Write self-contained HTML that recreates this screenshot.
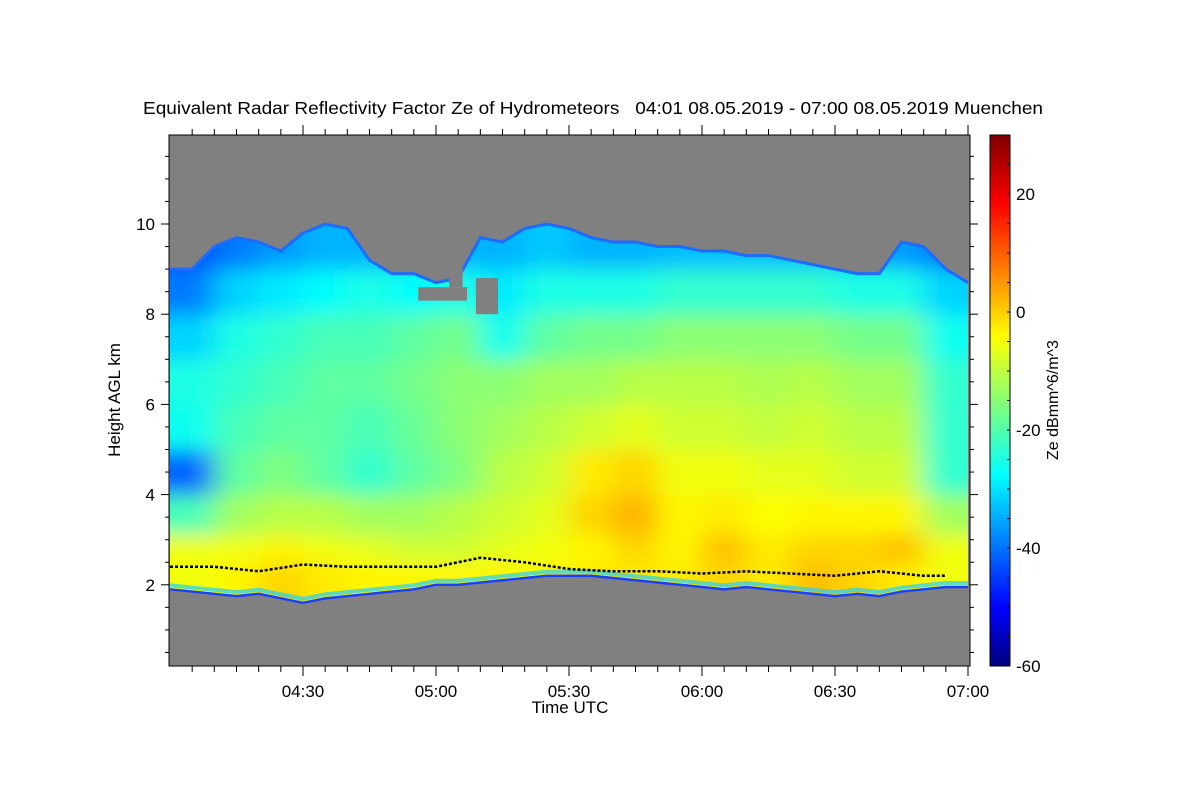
<!DOCTYPE html>
<html><head><meta charset="utf-8"><style>
body{margin:0;background:#fff;}
svg{display:block;font-family:"Liberation Sans",sans-serif;}
</style></head><body>
<svg id="chart" width="1200" height="800" viewBox="0 0 1200 800">
<defs>
<clipPath id="plotclip"><rect x="169" y="135" width="801" height="531"/></clipPath>
<clipPath id="cloudclip"><polygon id="cloudpoly" points=""/></clipPath>
<filter id="blur" x="-10%" y="-10%" width="120%" height="120%"><feGaussianBlur stdDeviation="14 10"/></filter>
<linearGradient id="jet" x1="0" y1="1" x2="0" y2="0">
<stop offset="0" stop-color="#00007f"/><stop offset="0.11" stop-color="#0000ff"/>
<stop offset="0.36" stop-color="#00ffff"/><stop offset="0.62" stop-color="#ffff00"/>
<stop offset="0.87" stop-color="#ff0000"/><stop offset="1" stop-color="#7f0000"/>
</linearGradient>
</defs>
<text x="143" y="114" font-size="17.5" textLength="900" lengthAdjust="spacingAndGlyphs" style="white-space:pre">Equivalent Radar Reflectivity Factor Ze of Hydrometeors   04:01 08.05.2019 - 07:00 08.05.2019 Muenchen</text>
<rect x="169" y="135" width="801" height="531" fill="#808080"/>
<g clip-path="url(#plotclip)">
<g clip-path="url(#cloudclip)">
<g id="cells" filter="url(#blur)"></g>
</g>
<g id="edges"></g>
<g id="gaps"></g>
<g id="ml"></g>
</g>
<rect x="169" y="135" width="801" height="531" fill="none" stroke="#000" stroke-width="1"/>
<g id="axes"></g>
<text transform="translate(120,400) rotate(-90)" text-anchor="middle" font-size="17">Height AGL km</text>
<text x="570" y="713" text-anchor="middle" font-size="17">Time UTC</text>
<rect x="990" y="135" width="20" height="531" fill="url(#jet)" stroke="#000"/>
<g id="cbaxis"></g>
<text transform="translate(1058,400) rotate(-90)" text-anchor="middle" font-size="16">Ze dBmm^6/m^3</text>
</svg>
<script>
// time in minutes after 04:00
const topTimes = [0,5,10,15,20,25,30,35,40,45,50,55,60,65,70,75,80,85,90,95,100,105,110,115,120,125,130,135,140,145,150,155,160,165,170,175,180];
const cloudTop = [9.0,9.0,9.5,9.7,9.6,9.4,9.8,10.0,9.9,9.2,8.9,8.9,8.7,8.8,9.7,9.6,9.9,10.0,9.9,9.7,9.6,9.6,9.5,9.5,9.4,9.4,9.3,9.3,9.2,9.1,9.0,8.9,8.9,9.6,9.5,9.0,8.7];
const cloudBase = [1.9,1.85,1.8,1.75,1.8,1.7,1.6,1.7,1.75,1.8,1.85,1.9,2.0,2.0,2.05,2.1,2.15,2.2,2.2,2.2,2.15,2.1,2.05,2.0,1.95,1.9,1.95,1.9,1.85,1.8,1.75,1.8,1.75,1.85,1.9,1.95,1.95];
const gridTimes = [5,15,25,35,45,55,65,75,85,95,105,115,125,135,145,155,165,175];
const gridHeights = [2.25,2.75,3.5,4.5,5.5,6.5,7.5,8.5,9.5];
const ze = [
[-5,-5,-20,-40,-25,-24,-30,-38,-42],
[-3,-5,-12,-18,-20,-22,-24,-30,-38],
[0,-3,-10,-15,-18,-20,-22,-28,-35],
[-2,-5,-10,-18,-18,-18,-20,-26,-33],
[-3,-6,-12,-22,-20,-18,-20,-24,-33],
[-3,-8,-12,-18,-17,-16,-18,-26,-33],
[-3,-8,-10,-15,-14,-14,-16,-24,-33],
[-3,-6,-8,-10,-12,-14,-25,-28,-33],
[-3,-5,-6,-8,-10,-12,-18,-24,-31],
[-2,-3,0,-2,-8,-12,-16,-24,-33],
[-2,0,3,0,-6,-10,-16,-24,-33],
[-2,-3,-3,-5,-8,-10,-14,-22,-32],
[0,2,-2,-5,-8,-10,-14,-22,-32],
[-2,-2,-4,-6,-9,-11,-14,-22,-32],
[2,0,-3,-6,-8,-10,-14,-22,-32],
[0,0,-3,-8,-10,-12,-16,-24,-33],
[-2,2,-3,-8,-10,-12,-16,-24,-35],
[-5,-5,-12,-22,-22,-22,-25,-30,-38]];
const mlTimes = [0,10,20,30,40,50,60,70,80,90,100,110,120,130,140,150,160,170,175];
const mlHeight = [2.4,2.4,2.3,2.45,2.4,2.4,2.4,2.6,2.5,2.35,2.3,2.3,2.25,2.3,2.25,2.2,2.3,2.2,2.2];
const gaps = [[56,67,8.3,8.6],[69,74,8.0,8.8],[63,66,8.6,9.1]];
const xTicks = [30,60,90,120,150,180];
const xTickLabels = ["04:30","05:00","05:30","06:00","06:30","07:00"];
const yTicks = [2,4,6,8,10];
const cbTicks = [20,0,-20,-40,-60];

const NS='http://www.w3.org/2000/svg';
const X = t => 170 + t*(798/180);
const Y = h => 675 - h*45.1;
const CB = v => 666 - (v+60)*(531/90);
function jet(v){
  let f=(v+60)/90; f=Math.max(0,Math.min(1,f));
  const c=x=>Math.round(255*Math.max(0,Math.min(1,x)));
  return `rgb(${c(1.5-Math.abs(4*f-3))},${c(1.5-Math.abs(4*f-2))},${c(1.5-Math.abs(4*f-1))})`;
}
function mk(tag,attrs,parent){const e=document.createElementNS(NS,tag);for(const k in attrs)e.setAttribute(k,attrs[k]);parent.appendChild(e);return e;}
let pts=topTimes.map((t,i)=>X(t)+','+Y(cloudTop[i]));
pts=pts.concat(topTimes.slice().reverse().map((t,i)=>X(t)+','+Y(cloudBase[cloudBase.length-1-i])));
document.getElementById('cloudpoly').setAttribute('points',pts.join(' '));
const cells=document.getElementById('cells');
gridTimes.forEach((t,i)=>{
  const x0=i===0?X(-10):X((gridTimes[i-1]+t)/2), x1=i===gridTimes.length-1?X(190):X((t+gridTimes[i+1])/2);
  gridHeights.forEach((h,j)=>{
    const h0=j===0?1.0:(gridHeights[j-1]+h)/2, h1=j===gridHeights.length-1?11:(h+gridHeights[j+1])/2;
    const r=mk('rect',{x:x0,y:Y(h1),width:x1-x0+0.5,height:Y(h0)-Y(h1)+0.5,fill:jet(ze[i][j])},cells);
    
    
  });
});
const edges=document.getElementById('edges');
const topPts=topTimes.map((t,i)=>X(t)+','+Y(cloudTop[i])).join(' ');
const basePts=topTimes.map((t,i)=>X(t)+','+Y(cloudBase[i])).join(' ');
const basePts2=topTimes.map((t,i)=>X(t)+','+(Y(cloudBase[i])-4)).join(' ');
let e1=mk('polyline',{points:topPts,fill:'none',stroke:'#1e6cff','stroke-width':3},edges);


let e3=mk('polyline',{points:basePts2,fill:'none',stroke:'#20d0ff','stroke-width':4,opacity:0.7},edges);


let e2=mk('polyline',{points:basePts,fill:'none',stroke:'#1a40ff','stroke-width':2.5},edges);


const gg=document.getElementById('gaps');
gaps.forEach(g=>{
  const r=mk('rect',{x:X(g[0]),y:Y(g[3]),width:X(g[1])-X(g[0]),height:Y(g[2])-Y(g[3]),fill:'#808080'},gg);
  
  
});
const ml=mk('polyline',{points:mlTimes.map((t,i)=>X(t)+','+Y(mlHeight[i])).join(' '),fill:'none',stroke:'#000','stroke-width':2.5,'stroke-dasharray':'3 2'},document.getElementById('ml'));


const ax=document.getElementById('axes');
for(let t=5;t<=180;t+=5){
  const major=xTicks.includes(t), L=major?10:6;
  mk('line',{x1:X(t),x2:X(t),y1:666,y2:666+L,stroke:'#000'},ax);
  mk('line',{x1:X(t),x2:X(t),y1:135,y2:135-L,stroke:'#000'},ax);
}
xTicks.forEach((t,i)=>{const tx=mk('text',{x:X(t),y:697,'text-anchor':'middle','font-size':17},ax);tx.textContent=xTickLabels[i];
  
  });
for(let h=0.5;h<=11.5;h+=0.5){
  const major=yTicks.includes(h), L=major?8:4;
  mk('line',{x1:169-L,x2:169,y1:Y(h),y2:Y(h),stroke:'#000'},ax);
  mk('line',{x1:970,x2:970+L,y1:Y(h),y2:Y(h),stroke:'#000'},ax);
}
yTicks.forEach(h=>{const tx=mk('text',{x:155,y:Y(h)+6,'text-anchor':'end','font-size':17},ax);tx.textContent=h;
  
  });
const cb=document.getElementById('cbaxis');
for(let v=-55;v<=30;v+=5){mk('line',{x1:1007,x2:1010,y1:CB(v),y2:CB(v),stroke:'#000'},cb);}
cbTicks.forEach(v=>{const tx=mk('text',{x:1016,y:CB(v)+6,'font-size':17},cb);tx.textContent=v;
  
  });
</script>
</body></html>
